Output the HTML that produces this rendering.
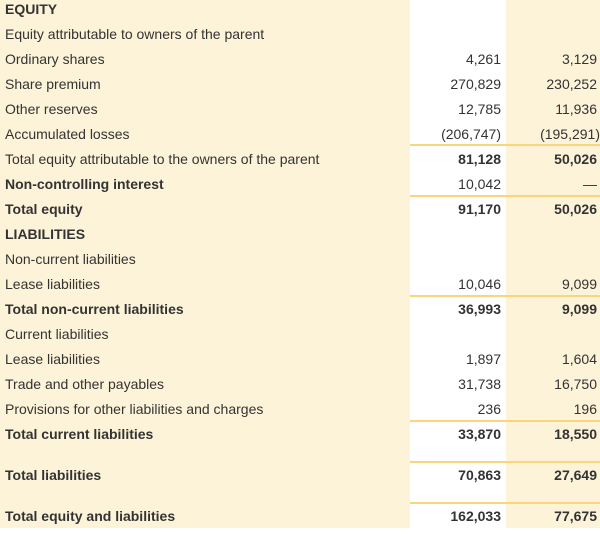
<!DOCTYPE html>
<html><head><style>
body{margin:0;width:600px;height:538px;background:#fff;font-family:"Liberation Sans",sans-serif;font-size:14px;color:#333;position:relative;overflow:hidden}
.bg{position:absolute;top:0;height:528px;background:#fdf3d8}
.r{position:absolute;left:0;width:600px;height:25px;line-height:25px}
.l{position:absolute;left:5px}
.a{position:absolute;right:99px}
.b{position:absolute;right:3px}
.bd{font-weight:bold}
.ln{position:absolute;left:410px;width:190px;height:2px;background:#f9d67c}
</style></head><body>
<div class="bg" style="left:0;width:410px"></div>
<div class="bg" style="left:506px;width:94px"></div>
<div class="r bd" style="top:-3px"><span class="l">EQUITY</span></div>
<div class="r" style="top:22px"><span class="l">Equity attributable to owners of the parent</span></div>
<div class="r" style="top:47px"><span class="l">Ordinary shares</span><span class="a">4,261</span><span class="b">3,129</span></div>
<div class="r" style="top:72px"><span class="l">Share premium</span><span class="a">270,829</span><span class="b">230,252</span></div>
<div class="r" style="top:97px"><span class="l">Other reserves</span><span class="a">12,785</span><span class="b">11,936</span></div>
<div class="r" style="top:122px"><span class="l">Accumulated losses</span><span class="a">(206,747)</span><span class="b" style="right:0">(195,291)</span></div>
<div class="ln" style="top:144px"></div>
<div class="r" style="top:147px"><span class="l">Total equity attributable to the owners of the parent</span><span class="a bd">81,128</span><span class="b bd">50,026</span></div>
<div class="r bd" style="top:172px"><span class="l">Non-controlling interest</span><span class="a" style="font-weight:normal">10,042</span><span class="b" style="font-weight:normal">—</span></div>
<div class="ln" style="top:195px"></div>
<div class="r bd" style="top:197px"><span class="l">Total equity</span><span class="a">91,170</span><span class="b">50,026</span></div>
<div class="r bd" style="top:222px"><span class="l">LIABILITIES</span></div>
<div class="r" style="top:247px"><span class="l">Non-current liabilities</span></div>
<div class="r" style="top:272px"><span class="l">Lease liabilities</span><span class="a">10,046</span><span class="b">9,099</span></div>
<div class="ln" style="top:295px"></div>
<div class="r bd" style="top:297px"><span class="l">Total non-current liabilities</span><span class="a">36,993</span><span class="b">9,099</span></div>
<div class="r" style="top:322px"><span class="l">Current liabilities</span></div>
<div class="r" style="top:347px"><span class="l">Lease liabilities</span><span class="a">1,897</span><span class="b">1,604</span></div>
<div class="r" style="top:372px"><span class="l">Trade and other payables</span><span class="a">31,738</span><span class="b">16,750</span></div>
<div class="r" style="top:397px"><span class="l">Provisions for other liabilities and charges</span><span class="a">236</span><span class="b">196</span></div>
<div class="ln" style="top:420px"></div>
<div class="r bd" style="top:422px"><span class="l">Total current liabilities</span><span class="a">33,870</span><span class="b">18,550</span></div>
<div class="ln" style="top:461px"></div>
<div class="r bd" style="top:463px"><span class="l">Total liabilities</span><span class="a">70,863</span><span class="b">27,649</span></div>
<div class="ln" style="top:502px"></div>
<div class="r bd" style="top:504px"><span class="l">Total equity and liabilities</span><span class="a">162,033</span><span class="b">77,675</span></div>
</body></html>
